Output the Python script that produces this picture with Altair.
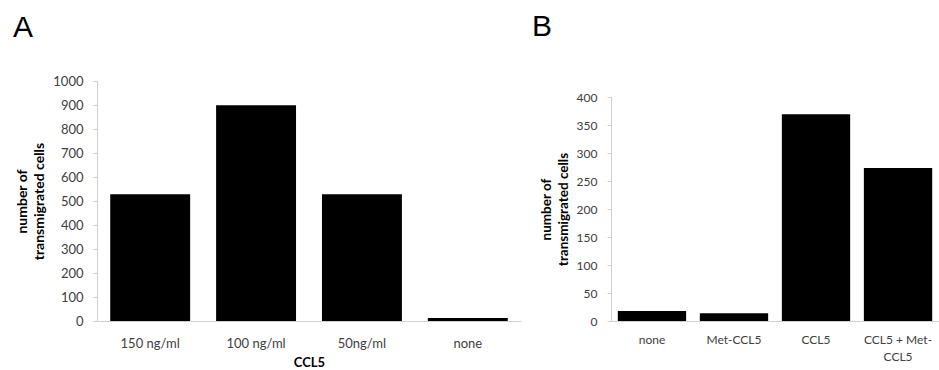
import altair as alt
import pandas as pd

a_cats = ["150 ng/ml", "100 ng/ml", "50ng/ml", "none"]
a_vals = [528, 899, 528, 12]
a_ticks = [0, 100, 200, 300, 400, 500, 600, 700, 800, 900, 1000]

b_cats = ["none", "Met-CCL5", "CCL5", "CCL5 + Met-CCL5"]
b_vals = [18, 14, 369, 273]
b_ticks = [0, 50, 100, 150, 200, 250, 300, 350, 400]

y_title = ["number of", "transmigrated cells"]

FONT = "Lato"

def axis_style(label_size, title_size, ticks=True):
    d = dict(domainColor="#d0d0d0", grid=False,
             labelFont=FONT, labelFontSize=label_size, labelColor="#404040",
             titleFont=FONT, titleFontSize=title_size, titleFontWeight="bold",
             titleColor="#000000")
    if ticks:
        d.update(tickColor="#d0d0d0", tickSize=4)
    else:
        d.update(ticks=False)
    return d

def letter_title(t, dx, offset):
    return alt.TitleParams(t, anchor="start", frame="group", dx=dx, offset=offset,
                           font="Liberation Sans", fontSize=30, fontWeight="normal",
                           color="black", baseline="alphabetic")

dfa = pd.DataFrame({"cat": a_cats, "val": a_vals})
chart_a = alt.Chart(dfa, title=letter_title("A", -84, 8)).mark_bar(color="black").encode(
    x=alt.X("cat:N", sort=a_cats,
            scale=alt.Scale(paddingInner=0.245, paddingOuter=0.125),
            axis=alt.Axis(title="CCL5", labelAngle=0, labelPadding=16, titlePadding=6,
                          **axis_style(13, 13, ticks=False))),
    y=alt.Y("val:Q", scale=alt.Scale(domain=[0, 1000]),
            axis=alt.Axis(values=a_ticks, format="d", title=y_title, labelPadding=10,
                          titlePadding=6, titleLineHeight=17, **axis_style(13, 14))),
).properties(width=424, height=240)

dfb = pd.DataFrame({"cat": b_cats, "val": b_vals})
chart_b = alt.Chart(dfb, title=letter_title("B", -79, 15)).mark_bar(color="black").encode(
    x=alt.X("cat:N", sort=b_cats,
            scale=alt.Scale(paddingInner=0.167, paddingOuter=0.083),
            axis=alt.Axis(title=None, labelAngle=0, labelPadding=13, labelLineHeight=17,
                          labelExpr="datum.label == 'CCL5 + Met-CCL5' ? ['CCL5 + Met-', 'CCL5'] : datum.label",
                          **axis_style(12, 13, ticks=False))),
    y=alt.Y("val:Q", scale=alt.Scale(domain=[0, 400], range=[240, 16]),
            axis=alt.Axis(values=b_ticks, format="d", title=y_title, labelPadding=10,
                          titlePadding=6, titleLineHeight=17, **axis_style(12, 13.5))),
).properties(width=328, height=240)

chart = alt.hconcat(chart_a, chart_b, spacing=11).properties(
    padding={"left": 13, "top": 12, "right": 0, "bottom": 0}
).configure_view(stroke=None)

chart.save("out.html", embed_options={"renderer": "svg", "actions": False})
